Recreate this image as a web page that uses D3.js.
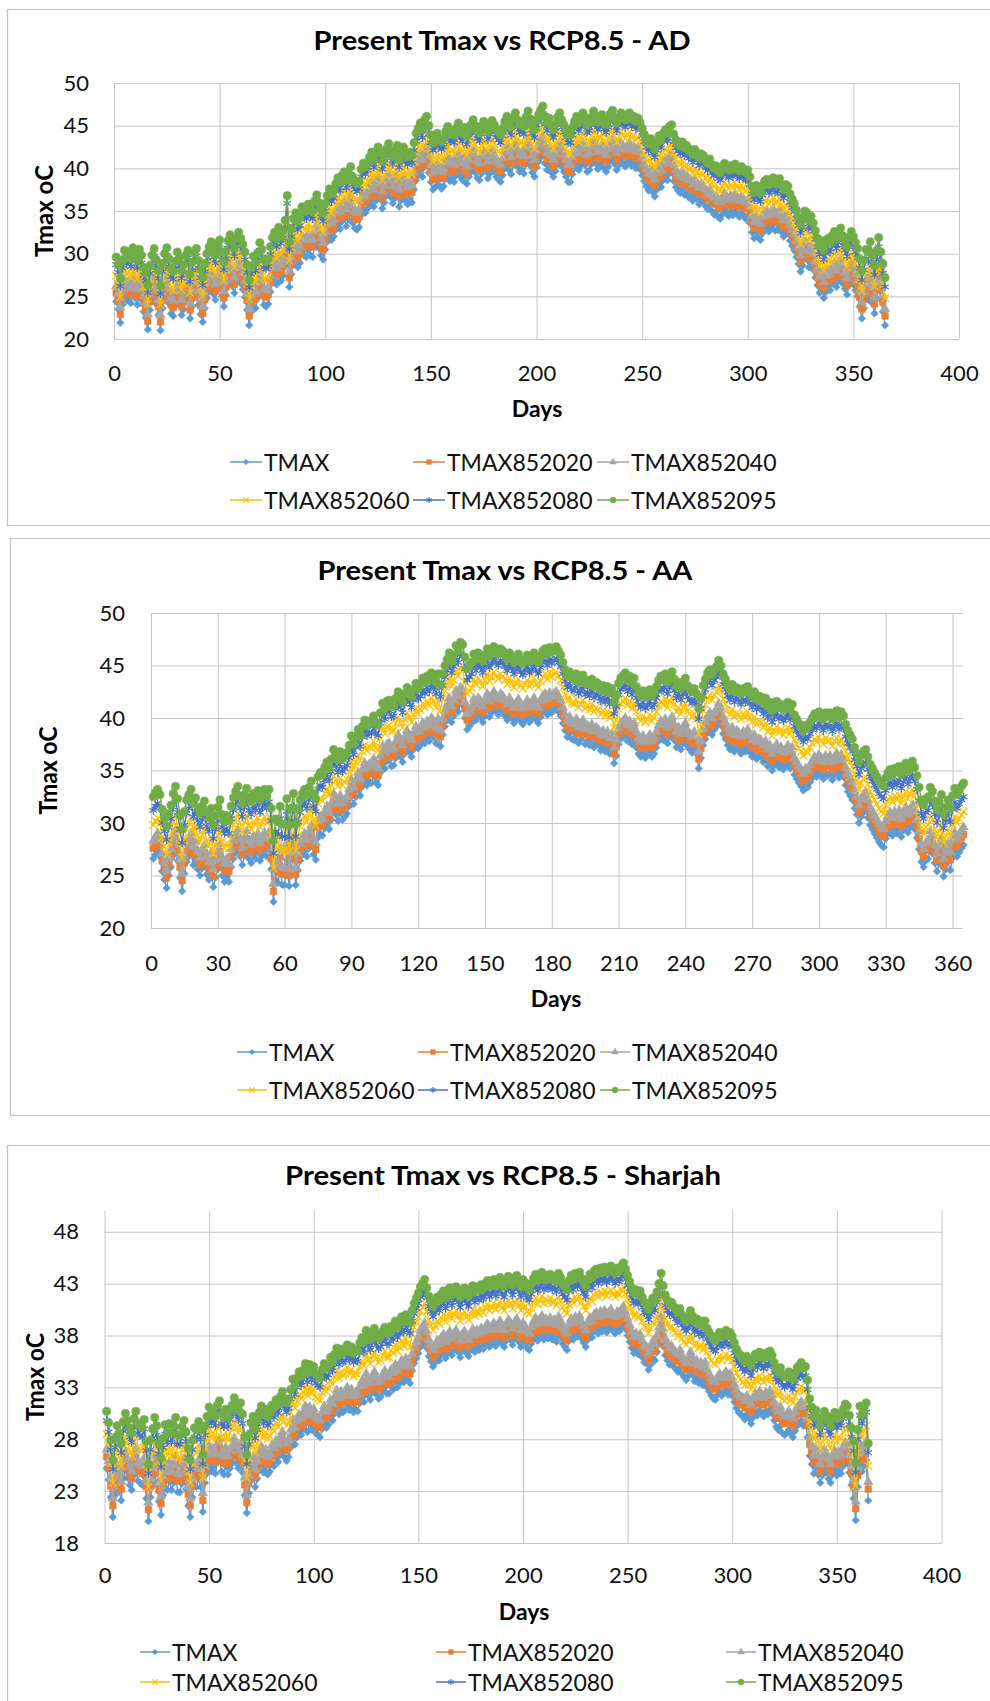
<!DOCTYPE html>
<html><head><meta charset="utf-8">
<script src="https://cdn.jsdelivr.net/npm/d3@7"></script>
<style>body{margin:0;background:#fff;} svg{display:block;font-family:Lato,'Open Sans',sans-serif;}</style>
</head><body><svg id="c" width="990" height="1701"></svg>
<script>
// ---------- data ----------
const seriesNames = ["TMAX","TMAX852020","TMAX852040","TMAX852060","TMAX852080","TMAX852095"];
const seriesColors = ["#5B9BD5","#ED7D31","#A5A5A5","#FFC000","#4472C4","#70AD47"];
const monthLengths = [31,28,31,30,31,30,31,31,30,31,30,31];
const xTicksAD = [0,50,100,150,200,250,300,350,400];
const xTicksAA = [0,30,60,90,120,150,180,210,240,270,300,330,360];
const xTicksSH = [0,50,100,150,200,250,300,350,400];
const yTicksAD = [20,25,30,35,40,45,50];
const yTicksAA = [20,25,30,35,40,45,50];
const yTicksSH = [18,23,28,33,38,43,48];

// Present daily Tmax, day 1..365
const tmaxAD = [
24.4,23.5,21.9,24.0,25.2,24.5,25.0,24.2,25.5,24.8,24.0,25.3,24.6,23.2,22.5,21.1,23.4,24.6,25.4,24.1,22.8,21.0,23.6,24.8,25.5,24.2,23.0,22.7,23.9,25.0,24.3,
22.8,23.5,24.6,25.2,22.4,23.8,24.9,25.4,24.0,22.9,22.0,23.6,24.8,25.6,26.2,25.3,24.6,25.8,26.4,25.0,23.8,25.1,26.3,27.0,26.2,25.4,26.6,27.3,
26.5,25.8,24.9,23.4,21.6,23.2,24.4,23.6,24.8,26.0,25.2,24.0,23.8,24.1,25.5,26.6,27.2,26.4,27.8,26.8,27.4,28.6,31.5,26.1,27.6,28.8,29.5,28.4,28.9,30.2,29.8,
29.6,30.4,29.8,29.6,30.8,31.5,30.6,29.8,29.3,30.5,31.4,32.2,31.6,32.0,32.8,33.5,32.9,33.8,34.2,33.2,34.0,34.8,33.6,33.0,32.8,33.1,34.5,35.2,34.8,35.3,
35.8,36.4,35.5,36.2,37.0,36.4,35.3,36.0,36.8,37.4,36.6,35.9,36.5,37.2,35.5,36.3,37.0,36.2,35.8,36.4,36.0,37.5,38.6,39.2,39.8,39.0,40.2,40.6,39.5,38.4,37.5,
37.8,38.6,38.0,37.6,37.9,38.8,39.4,38.5,38.9,38.4,39.2,39.8,39.0,38.6,39.3,38.2,39.0,39.6,40.2,39.5,38.9,38.6,39.4,40.0,39.7,38.8,39.4,40.1,39.6,39.0,
38.7,38.4,39.2,40.0,40.6,39.8,39.3,40.4,41.0,40.2,39.6,39.9,39.4,40.5,41.2,40.3,39.5,39.0,40.1,40.8,41.3,41.8,40.6,39.8,40.4,39.5,39.0,39.7,40.5,41.0,40.2,
39.6,39.0,38.4,38.4,39.3,40.0,40.6,39.8,40.3,41.0,40.4,39.6,39.8,40.5,41.2,40.6,39.9,40.3,40.8,40.0,39.6,40.2,40.9,41.3,40.5,39.8,40.4,41.0,40.6,40.2,40.7,
41.0,40.3,40.6,40.0,40.4,39.9,39.2,38.5,37.9,37.4,38.0,37.2,36.7,37.5,38.3,37.8,38.6,39.0,38.6,39.4,39.6,38.5,37.8,37.4,37.1,37.6,36.9,37.2,36.6,36.7,
36.2,36.8,36.4,35.8,36.3,36.1,35.6,35.2,35.7,35.0,34.6,34.9,34.3,34.1,34.6,35.2,34.8,34.4,34.9,34.5,35.1,34.7,34.3,34.8,34.5,34.1,34.4,33.6,32.5,31.8,32.6,
31.9,31.6,32.4,33.0,33.2,32.6,32.9,33.4,32.7,32.8,33.3,32.5,32.0,32.6,32.4,31.5,30.9,30.4,29.6,28.8,27.9,28.6,29.5,29.3,28.4,28.9,28.1,27.2,26.3,25.4,
25.9,24.8,25.5,26.2,25.7,26.5,27.0,26.1,26.8,27.4,26.5,25.9,25.2,26.3,27.0,26.4,25.7,25.0,23.8,22.4,23.6,24.9,24.6,25.8,24.2,23.0,24.8,26.3,24.6,23.2,21.6];

const tmaxAA = [
26.6,27.0,27.3,26.8,25.4,24.6,23.8,25.0,25.8,26.9,27.6,26.4,24.8,23.5,25.2,26.3,26.8,27.3,26.0,26.5,25.6,25.0,25.7,26.2,25.1,24.6,25.5,23.9,24.8,25.6,26.3,
25.0,24.4,24.9,24.4,25.8,26.6,27.2,27.7,26.8,26.0,26.9,27.5,26.6,26.2,27.0,26.6,27.3,26.4,26.9,27.4,26.8,27.4,25.6,22.5,24.6,24.3,25.8,24.1,
24.1,26.5,24.0,25.6,27.0,24.1,25.5,26.4,27.0,27.4,26.8,27.6,28.2,27.0,26.5,28.6,29.0,28.8,29.5,30.0,29.4,30.3,31.2,30.8,30.2,31.0,30.3,30.6,30.9,31.6,32.5,
31.8,32.5,33.2,32.6,33.5,34.1,33.6,34.0,33.8,34.5,33.9,33.6,34.8,35.7,35.2,35.9,36.0,35.4,35.5,36.2,36.8,36.3,35.8,36.6,37.2,36.8,36.3,37.0,37.6,37.1,
37.4,38.0,37.6,38.2,37.8,38.5,38.2,37.6,38.4,37.3,38.4,39.2,39.8,40.4,39.6,40.2,41.1,40.6,41.4,41.2,40.0,38.9,39.2,39.5,40.3,39.8,40.4,40.1,39.6,40.2,40.8,
40.1,40.5,41.0,40.6,40.3,40.8,40.6,40.2,39.8,40.4,40.0,39.5,39.9,40.3,39.7,39.4,39.8,40.2,39.6,39.9,40.4,39.8,39.5,40.1,40.6,40.8,40.3,40.9,40.5,40.8,
41.0,40.6,40.2,39.5,38.8,38.2,38.6,38.0,37.9,38.4,37.6,37.9,38.3,37.5,37.8,37.4,37.9,37.2,37.6,37.4,36.9,37.3,36.8,37.2,36.6,37.0,35.7,36.4,37.5,38.0,38.2,
38.5,37.8,38.2,37.5,38.0,37.2,36.6,36.3,36.8,36.2,36.5,36.9,36.3,36.6,37.2,37.8,38.2,37.9,38.4,37.6,38.2,38.6,37.9,37.2,37.6,37.0,37.6,38.0,37.3,37.0,36.7,
37.1,36.6,35.2,36.2,37.4,38.0,38.6,38.9,38.4,38.9,39.2,39.8,39.3,38.5,38.0,37.4,37.0,37.5,36.8,37.2,37.0,36.6,37.1,36.8,37.3,36.7,36.3,36.8,36.1,36.4,
36.3,35.8,36.2,35.4,35.8,35.0,35.5,35.9,35.3,35.6,35.1,35.4,35.8,35.2,35.6,34.6,34.2,33.8,33.5,33.1,33.6,33.4,33.9,34.3,34.7,34.4,34.9,34.6,34.2,34.8,34.5,
34.7,34.1,34.6,34.9,34.3,34.8,34.4,33.6,33.0,32.6,32.2,31.4,30.8,30.0,30.6,31.0,31.2,30.5,29.8,29.4,29.0,28.6,28.2,27.9,27.7,28.5,29.0,29.3,28.8,29.4,
29.0,29.5,28.7,29.3,29.8,29.1,29.6,30.0,29.4,28.6,27.5,26.3,25.8,26.4,26.6,27.5,27.1,26.2,25.4,26.1,26.8,24.9,25.6,26.3,25.5,26.7,27.4,26.8,27.2,27.6,27.9];

const tmaxSH = [
25.2,24.1,22.4,20.5,22.6,23.8,23.0,22.1,24.2,25.0,24.3,23.6,23.1,24.5,25.2,24.0,23.8,23.6,24.4,22.3,20.1,22.4,23.5,24.6,23.8,22.0,20.7,22.6,23.9,23.1,24.0,
23.1,23.8,24.6,22.9,22.9,23.7,24.3,23.2,21.6,20.5,22.4,23.6,23.4,24.2,23.4,21.0,23.8,24.7,25.6,24.9,25.3,24.7,25.8,26.2,24.9,24.6,25.4,24.6,
25.2,25.7,26.4,25.7,25.2,25.9,24.8,22.6,20.9,22.8,24.0,24.6,23.4,24.2,25.0,25.6,24.8,25.3,24.6,24.9,25.7,25.4,26.2,25.8,26.5,27.0,26.3,25.9,26.3,27.2,28.2,
27.5,28.2,28.8,28.4,29.0,29.6,28.7,29.5,28.9,29.3,28.6,28.4,28.2,29.0,29.6,29.1,29.4,30.2,29.8,30.5,31.1,30.4,31.0,30.6,30.8,31.4,30.8,31.2,30.6,30.9,
30.7,31.5,32.0,31.6,32.7,32.2,31.8,32.5,32.9,32.3,31.9,32.1,32.6,33.0,32.4,32.4,33.1,32.8,33.6,33.0,33.4,34.0,33.5,34.2,33.7,33.4,34.6,35.3,35.8,36.3,36.9,
37.2,37.6,36.8,36.0,35.5,35.0,35.4,35.9,35.6,36.2,36.5,35.8,36.3,36.8,36.1,36.6,36.9,36.4,35.9,36.5,36.8,36.3,36.0,36.6,37.0,36.4,36.9,36.6,37.1,36.7,
37.2,37.5,36.9,37.2,37.6,37.0,37.4,37.8,37.2,36.9,37.5,37.9,37.6,37.1,37.7,38.0,37.4,36.9,37.6,37.3,36.8,36.6,37.2,37.7,38.1,37.5,37.9,38.3,37.6,38.0,37.7,
38.1,37.6,37.9,37.4,38.2,37.8,37.2,36.9,36.6,37.5,38.0,37.6,38.2,37.9,38.3,37.7,37.3,36.9,37.6,38.1,37.8,38.4,38.6,38.2,38.7,38.4,38.8,38.3,38.6,38.9,38.5,
38.2,38.7,38.4,38.9,39.2,38.6,38.0,37.4,36.8,36.3,36.6,36.2,36.5,35.9,35.4,35.3,34.7,35.2,35.8,35.6,36.4,37.2,38.2,37.0,36.1,35.6,35.2,35.4,35.0,34.8,
34.5,34.9,34.3,34.0,33.7,34.1,34.7,34.2,33.6,33.9,33.4,33.7,33.2,33.7,33.0,32.6,32.2,31.9,31.8,32.3,32.6,32.2,32.5,32.8,32.3,32.6,32.2,31.6,31.0,30.6,30.4,
30.2,29.9,30.4,30.0,29.5,30.1,30.6,30.3,30.8,30.5,30.2,30.7,30.4,30.9,30.5,29.8,29.2,28.9,29.3,28.6,28.4,28.6,28.9,28.5,28.2,28.8,29.3,29.5,29.8,29.3,
29.5,28.2,26.4,25.6,24.7,25.3,24.6,23.8,24.5,25.2,24.8,24.2,23.8,24.6,25.1,24.5,25.0,24.7,25.4,25.9,25.7,24.8,23.6,22.3,20.2,23.4,25.7,24.9,25.5,26.0,22.1];

// RCP8.5 monthly change (Jan..Dec) added to present Tmax
const deltaAD2020 = [1.0,1.0,1.1,1.2,1.2,1.2,1.2,1.2,1.2,1.2,1.1,1.1];
const deltaAD2040 = [1.8,1.8,1.9,2.0,2.0,2.0,2.0,2.0,2.0,1.9,1.9,1.9];
const deltaAD2060 = [3.0,3.0,3.1,3.2,3.3,3.3,3.3,3.3,3.3,3.2,3.2,3.2];
const deltaAD2080 = [4.3,4.3,4.4,4.5,4.6,4.6,4.6,4.6,4.6,4.5,4.5,4.5];
const deltaAD2095 = [5.2,5.2,5.3,5.4,5.5,5.5,5.5,5.5,5.5,5.4,5.5,5.6];
const deltaAA2020 = [1.0,1.0,1.0,0.9,0.9,0.9,0.9,0.9,0.9,0.9,1.0,1.0];
const deltaAA2040 = [1.7,1.7,1.6,1.6,1.5,1.5,1.5,1.5,1.6,1.6,1.7,1.7];
const deltaAA2060 = [3.2,3.2,3.3,3.3,3.4,3.4,3.4,3.4,3.3,3.3,3.2,3.2];
const deltaAA2080 = [4.6,4.6,4.6,4.7,4.7,4.7,4.7,4.7,4.7,4.6,4.6,4.6];
const deltaAA2095 = [5.9,5.8,5.8,5.7,5.8,5.8,5.8,5.8,5.7,5.7,5.8,5.9];
const deltaSH2020 = [1.1,1.1,1.0,0.9,0.9,0.9,0.9,0.9,0.9,1.0,1.1,1.1];
const deltaSH2040 = [1.8,1.8,1.7,1.6,1.6,1.6,1.6,1.6,1.6,1.7,1.8,1.8];
const deltaSH2060 = [3.3,3.3,3.4,3.5,3.5,3.5,3.5,3.5,3.5,3.4,3.3,3.3];
const deltaSH2080 = [4.6,4.6,4.7,4.8,4.8,4.8,4.8,4.8,4.8,4.7,4.6,4.6];
const deltaSH2095 = [5.5,5.5,5.6,5.7,5.8,5.8,5.8,5.8,5.8,5.7,5.6,5.5];

// ---------- layout ----------
const panels = [
 {title:"Present Tmax vs RCP8.5 - AD", titleLen:377, tmax:tmaxAD, deltas:[deltaAD2020,deltaAD2040,deltaAD2060,deltaAD2080,deltaAD2095],
  frame:[7,9,1010,516], titleX:502, titleY:50, L:114, R:959, T:83, B:339, xDom:[0,400], xTicks:xTicksAD,
  yDom:[20,50], yTicks:yTicksAD, yLabRight:89, xLabPad:26, daysX:537, daysY:417, yTitleX:43, yTitleLen:92,
  legRows:[462,500], legCols:[230,413,597], legLen:32},
 {title:"Present Tmax vs RCP8.5 - AA", titleLen:375, tmax:tmaxAA, deltas:[deltaAA2020,deltaAA2040,deltaAA2060,deltaAA2080,deltaAA2095],
  frame:[10,538,1010,577], titleX:505, titleY:580, L:151, R:963, T:613, B:928, xDom:[0,364.7], xTicks:xTicksAA,
  yDom:[20,50], yTicks:yTicksAA, yLabRight:125, xLabPad:27, daysX:556, daysY:1007, yTitleX:47, yTitleLen:88,
  legRows:[1052,1090], legCols:[237,418,600], legLen:30},
 {title:"Present Tmax vs RCP8.5 - Sharjah", titleLen:436, tmax:tmaxSH, deltas:[deltaSH2020,deltaSH2040,deltaSH2060,deltaSH2080,deltaSH2095],
  frame:[7,1145,1010,600], titleX:503, titleY:1185, L:104.5, R:941.5, T:1211, B:1543, xDom:[0,400], xTicks:xTicksSH,
  yDom:[18,50], yTicks:yTicksSH, yLabRight:79, xLabPad:24, daysX:524, daysY:1620, yTitleX:34, yTitleLen:88,
  legRows:[1652,1682], legCols:[140,436,726], legLen:30}
];

const monthIndex = [];
monthLengths.forEach((n,m)=>{ for(let i=0;i<n;i++) monthIndex.push(m); });
function buildSeries(tmax, deltas){
  const out = [tmax.map((v,i)=>({day:i+1, v}))];
  deltas.forEach(dl => out.push(tmax.map((v,i)=>({day:i+1, v: v + dl[monthIndex[i]]}))));
  return out;
}

const symX = d3.symbolX || d3.symbolCross;
const symAst = d3.symbolAsterisk || d3.symbolCross;
const symTypes = [d3.symbolSquare, d3.symbolSquare, d3.symbolTriangle, symX, symAst, d3.symbolCircle];
const symSizes = [28, 42, 38, 40, 52, 52];
const symRot = [45,0,0,0,0,0];
const symStroke = [false,false,false,true,true,false];

const svg = d3.select("#c");
svg.append("rect").attr("width",990).attr("height",1701).attr("fill","#fff");

function styleMarker(sel, k){
  if (symStroke[k]) sel.attr("fill","none").attr("stroke",seriesColors[k]).attr("stroke-width",1.2);
  else sel.attr("fill",seriesColors[k]).attr("stroke",seriesColors[k]).attr("stroke-width",0.6);
}

panels.forEach(p => {
  const g = svg.append("g");
  g.append("rect").attr("x",p.frame[0]+0.5).attr("y",p.frame[1]+0.5)
    .attr("width",p.frame[2]).attr("height",p.frame[3]).attr("fill","#fff").attr("stroke","#c4c4c4").attr("stroke-width",1.2);

  const x = d3.scaleLinear().domain(p.xDom).range([p.L,p.R]);
  const y = d3.scaleLinear().domain(p.yDom).range([p.B,p.T]);

  // gridlines
  const gx = g.append("g").attr("transform",`translate(0,${p.B})`)
    .call(d3.axisBottom(x).tickValues(p.xTicks).tickSize(-(p.B-p.T)).tickFormat(""));
  gx.select(".domain").remove();
  gx.selectAll("line").attr("stroke","#c4c4c4").attr("stroke-width",1);
  const gy = g.append("g").attr("transform",`translate(${p.L},0)`)
    .call(d3.axisLeft(y).tickValues(p.yTicks).tickSize(-(p.R-p.L)).tickFormat(""));
  gy.select(".domain").remove();
  gy.selectAll("line").attr("stroke","#c4c4c4").attr("stroke-width",1);

  // tick labels
  const ya = g.append("g").attr("transform",`translate(${p.L},0)`)
    .call(d3.axisLeft(y).tickValues(p.yTicks).tickSize(0).tickPadding(p.L-p.yLabRight).tickFormat(d3.format("d")));
  ya.select(".domain").remove();
  ya.selectAll("text").attr("font-size",22).attr("font-family","Lato").attr("fill","#111");
  const xa = g.append("g").attr("transform",`translate(0,${p.B})`)
    .call(d3.axisBottom(x).tickValues(p.xTicks).tickSize(0).tickPadding(p.xLabPad).tickFormat(d3.format("d")));
  xa.select(".domain").remove();
  xa.selectAll("text").attr("font-size",22).attr("font-family","Lato").attr("fill","#111");

  // titles
  g.append("text").attr("x",p.titleX).attr("y",p.titleY).attr("text-anchor","middle")
    .attr("font-size",26).attr("font-weight","bold").attr("fill","#000")
    .attr("textLength",p.titleLen).attr("lengthAdjust","spacingAndGlyphs").text(p.title);
  g.append("text").attr("x",p.daysX).attr("y",p.daysY).attr("text-anchor","middle")
    .attr("font-size",23).attr("font-weight","bold").attr("fill","#000").text("Days");
  g.append("text").attr("transform",`translate(${p.yTitleX},${(p.T+p.B)/2}) rotate(-90)`)
    .attr("text-anchor","middle").attr("dominant-baseline","central")
    .attr("font-size",25).attr("font-weight","bold").attr("fill","#000")
    .attr("textLength",p.yTitleLen).attr("lengthAdjust","spacingAndGlyphs").text("Tmax oC");

  // series
  const series = buildSeries(p.tmax, p.deltas);
  const line = d3.line().x(d=>x(d.day)).y(d=>y(d.v));
  series.forEach((data,k) => {
    const sg = g.append("g");
    sg.append("path").datum(data).attr("d",line).attr("fill","none")
      .attr("stroke",seriesColors[k]).attr("stroke-width",1.4).attr("stroke-linejoin","round");
    const sym = d3.symbol().type(symTypes[k]).size(symSizes[k]);
    const m = sg.selectAll("path.m").data(data).join("path").attr("class","m").attr("d",sym)
      .attr("transform",d=>`translate(${x(d.day)},${y(d.v)})` + (symRot[k]?` rotate(${symRot[k]})`:""));
    styleMarker(m,k);
  });

  // legend
  seriesNames.forEach((name,k) => {
    const row = Math.floor(k/3), col = k%3;
    const lx = p.legCols[col], ly = p.legRows[row];
    const lg = g.append("g");
    lg.append("line").attr("x1",lx).attr("x2",lx+p.legLen).attr("y1",ly).attr("y2",ly)
      .attr("stroke",seriesColors[k]).attr("stroke-width",1.5);
    const sym = d3.symbol().type(symTypes[k]).size(symSizes[k]*0.5);
    const mk = lg.append("path").attr("d",sym)
      .attr("transform",`translate(${lx+p.legLen/2},${ly})` + (symRot[k]?` rotate(${symRot[k]})`:""));
    styleMarker(mk,k);
    lg.append("text").attr("x",lx+p.legLen+2).attr("y",ly).attr("dominant-baseline","central")
      .attr("font-size",23).attr("fill","#111").text(name);
  });
});
</script>
</body></html>
